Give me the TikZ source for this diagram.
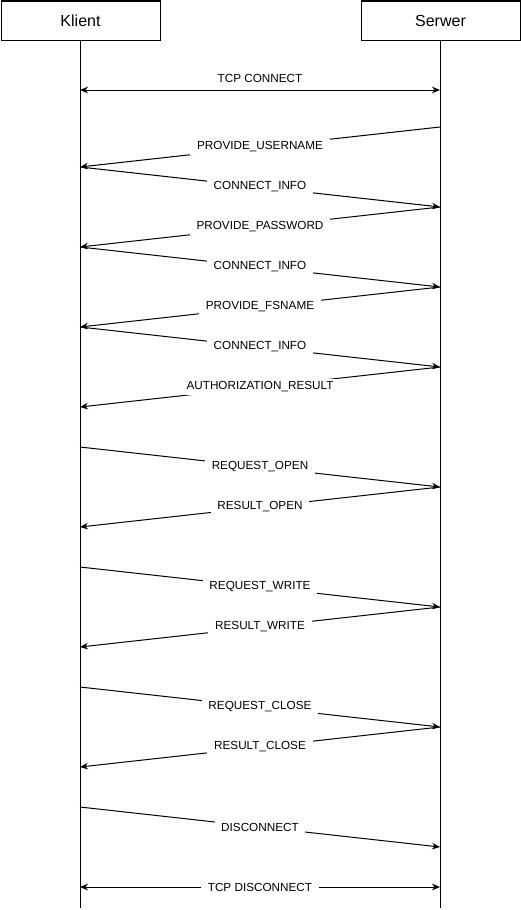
\documentclass[tikz,border=0pt]{standalone}
\usepackage{fontspec}
\setmainfont{Liberation Sans}
\usetikzlibrary{arrows.meta}

\begin{document}
\begin{tikzpicture}[x=0.75pt,y=-0.75pt,line width=0.75pt,
  party/.style={draw,minimum width=119.25pt,minimum height=29.25pt,font=\fontsize{12}{14}\selectfont},
  msg/.style={-{Stealth[length=6pt,width=5pt]}},
  both/.style={{Stealth[length=6pt,width=5pt]}-{Stealth[length=6pt,width=5pt]}},
  lbl/.style={fill=white,inner xsep=5pt,inner ysep=2pt,font=\fontsize{8.8}{10}\selectfont}]
\useasboundingbox (0,0) rectangle (521,910);
% uczestnicy
\node[party] (klient) at (80.5,20.5) {Klient};
\node[party] (serwer) at (440.5,20.5) {Serwer};
\coordinate (kEnd) at (80,908);
\coordinate (sEnd) at (440,908);
\draw (klient.south -| kEnd) -- (kEnd);
\draw (serwer.south -| sEnd) -- (sEnd);
% punkty na liniach
\coordinate (k90) at (80,90);   \coordinate (s90) at (440,90);
\coordinate (s127) at (440,127);
\coordinate (k167) at (80,167); \coordinate (s207) at (440,207);
\coordinate (k247) at (80,247); \coordinate (s287) at (440,287);
\coordinate (k327) at (80,327); \coordinate (s367) at (440,367);
\coordinate (k407) at (80,407);
\coordinate (k447) at (80,447); \coordinate (s487) at (440,487);
\coordinate (k527) at (80,527);
\coordinate (k567) at (80,567); \coordinate (s607) at (440,607);
\coordinate (k647) at (80,647);
\coordinate (k687) at (80,687); \coordinate (s727) at (440,727);
\coordinate (k767) at (80,767);
\coordinate (k807) at (80,807); \coordinate (s847) at (440,847);
\coordinate (k887) at (80,887); \coordinate (s887) at (440,887);
% komunikaty
\draw[both] (k90) -- (s90);
\node[lbl] (tcpc) at (260,78) {TCP CONNECT};
\draw[msg] (s127) -- node[lbl] (pu) {PROVIDE\_USERNAME} (k167);
\draw[msg] (k167) -- node[lbl] (ci1) {CONNECT\_INFO} (s207);
\draw[msg] (s207) -- node[lbl] (pp) {PROVIDE\_PASSWORD} (k247);
\draw[msg] (k247) -- node[lbl] (ci2) {CONNECT\_INFO} (s287);
\draw[msg] (s287) -- node[lbl] (pf) {PROVIDE\_FSNAME} (k327);
\draw[msg] (k327) -- node[lbl] (ci3) {CONNECT\_INFO} (s367);
\draw[msg] (s367) -- node[lbl] (ar) {AUTHORIZATION\_RESULT} (k407);
\draw[msg] (k447) -- node[lbl] (ro) {REQUEST\_OPEN} (s487);
\draw[msg] (s487) -- node[lbl] (reso) {RESULT\_OPEN} (k527);
\draw[msg] (k567) -- node[lbl] (rw) {REQUEST\_WRITE} (s607);
\draw[msg] (s607) -- node[lbl] (resw) {RESULT\_WRITE} (k647);
\draw[msg] (k687) -- node[lbl] (rc) {REQUEST\_CLOSE} (s727);
\draw[msg] (s727) -- node[lbl] (resc) {RESULT\_CLOSE} (k767);
\draw[msg] (k807) -- node[lbl] (dc) {DISCONNECT} (s847);
\draw[both] (k887) -- node[lbl] (tcpd) {TCP DISCONNECT} (s887);
\end{tikzpicture}
\end{document}
